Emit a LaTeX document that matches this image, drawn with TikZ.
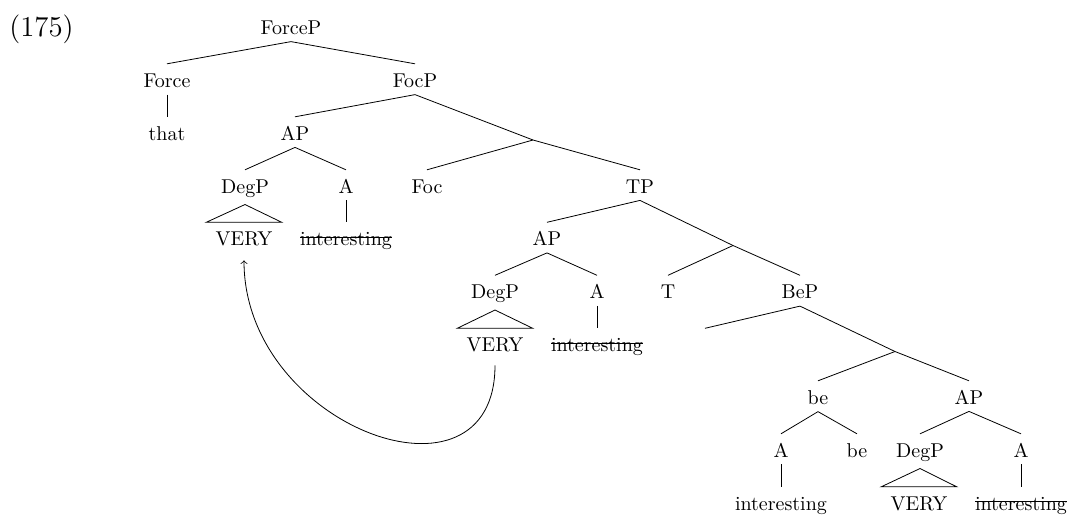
\documentclass[tikz,border=0pt]{standalone}
\usepackage{amsfonts, amssymb, amsmath}
\usepackage{tikz}

% struck-through copy of a moved word
\newcommand{\struck}[1]{\sbox0{#1}\rlap{\usebox0}\rule[0.9ex]{\wd0}{0.4pt}}

\begin{document}
\begin{tikzpicture}[x=0.5pt, y=-0.5pt,
    lbl/.style={anchor=base, inner xsep=4.5pt, inner ysep=3.5pt, text height=7.9pt}]
    \useasboundingbox (0,0) rectangle (1073,515);

    % example number
    \node[anchor=base west, font=\Large, inner sep=0pt] (exnum) at (9,36) {(175)};

    % ForceP layer
    \node[lbl] (forcep) at (291,34) {ForceP};
    \node[lbl] (force) at (167,87) {Force};
    \node[lbl] (focp) at (415,87) {FocP};
    \node[lbl] (that) at (167,140) {that};
    \draw (forcep.south) -- (force.north);
    \draw (forcep.south) -- (focp.north);
    \draw (force.south) -- (that.north);

    % FocP layer: fronted AP
    \node[lbl] (ap1) at (295,140) {AP};
    \coordinate (focbar) at (533,140);
    \node[lbl] (degp1) at (245,193) {DegP};
    \node[lbl] (a1) at (346,193) {A};
    \node[lbl] (foc) at (427,193) {Foc};
    \node[lbl] (tp) at (640,193) {TP};
    \node[lbl] (very1) at (244,245.5) {VERY};
    \node[lbl] (int1) at (346,245.5) {\struck{interesting}};
    \draw (focp.south) -- (ap1.north);
    \draw (focp.south) -- (focbar) -- (tp.north);
    \draw (focbar) -- (foc.north);
    \draw (ap1.south) -- (degp1.north);
    \draw (ap1.south) -- (a1.north);
    \draw (a1.south) -- (int1.north);
    \draw (degp1.south) -- (very1.north west) -- (very1.north east) -- cycle;

    % TP layer: AP in spec
    \node[lbl] (ap2) at (547,245.5) {AP};
    \coordinate (tbar) at (733,245.5);
    \node[lbl] (degp2) at (495,298.5) {DegP};
    \node[lbl] (a2) at (597,298.5) {A};
    \node[lbl] (tnode) at (668,298.5) {T};
    \node[lbl] (bep) at (800,298.5) {BeP};
    \node[lbl] (very2) at (495,351.5) {VERY};
    \node[lbl] (int2) at (597,351.5) {\struck{interesting}};
    \draw (tp.south) -- (ap2.north);
    \draw (tp.south) -- (tbar) -- (bep.north);
    \draw (tbar) -- (tnode.north);
    \draw (ap2.south) -- (degp2.north);
    \draw (ap2.south) -- (a2.north);
    \draw (a2.south) -- (int2.north);
    \draw (degp2.south) -- (very2.north west) -- (very2.north east) -- cycle;

    % BeP layer
    \node[lbl] (bespec) at (705,351.5) {};
    \coordinate (bebar) at (895,351.5);
    \node[lbl] (be) at (818,404) {be};
    \node[lbl] (ap3) at (969,404) {AP};
    \node[lbl] (a3) at (781,457) {A};
    \node[lbl] (be2) at (857,457) {be};
    \node[lbl] (degp3) at (920,457) {DegP};
    \node[lbl] (a4) at (1021,457) {A};
    \node[lbl] (int3) at (781,510) {interesting};
    \node[lbl] (very3) at (919,510) {VERY};
    \node[lbl] (int4) at (1021,510) {\struck{interesting}};
    \draw (bep.south) -- (bespec.north);
    \draw (bep.south) -- (bebar) -- (ap3.north);
    \draw (bebar) -- (be.north);
    \draw (be.south) -- (a3.north);
    \draw (be.south) -- (be2.north);
    \draw (a3.south) -- (int3.north);
    \draw (ap3.south) -- (degp3.north);
    \draw (ap3.south) -- (a4.north);
    \draw (a4.south) -- (int4.north);
    \draw (degp3.south) -- (very3.north west) -- (very3.north east) -- cycle;

    % movement of VERY
    \draw[->, shorten <=3pt, shorten >=3.5pt] (very2.south) .. controls +(0,159) and +(0,174) .. (very1.south);
\end{tikzpicture}
\end{document}
